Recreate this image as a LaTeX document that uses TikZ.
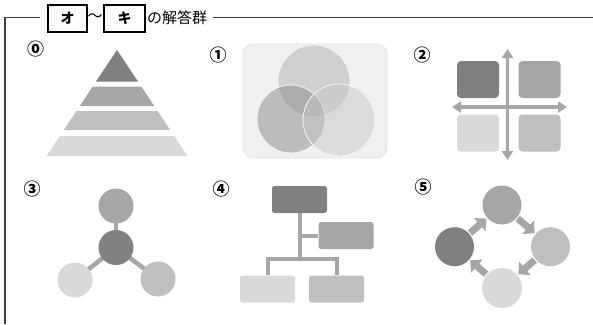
\documentclass[tikz,border=0pt]{standalone}
\usepackage{fontspec}
\newfontfamily\jp{Noto Sans CJK JP}
\usetikzlibrary{arrows.meta,backgrounds}
\definecolor{gA}{HTML}{808080}
\definecolor{gB}{HTML}{A6A6A6}
\definecolor{gC}{HTML}{BFBFBF}
\definecolor{gD}{HTML}{D9D9D9}
\tikzset{
  frameline/.style={draw=black!75, line width=1.2pt},
  ansbox/.style={draw, line width=2pt, minimum height=27pt, inner sep=0pt, font=\jp\bfseries\fontsize{14}{14}\selectfont},
  numlabel/.style={font=\jp\bfseries\fontsize{17}{17}\selectfont, inner sep=0pt},
  blob/.style={circle, inner sep=0pt, draw=none},
  orgbox/.style={rounded corners=2.5pt, minimum width=55pt, minimum height=27pt, inner sep=0pt, draw=none},
  quad/.style={rounded corners=4pt, minimum width=42pt, minimum height=37pt, inner sep=0pt, draw=none},
  link/.style={draw=gB, line width=4.5pt},
  quadarrow/.style={draw=gB, line width=3.5pt, {Triangle[width=11pt,length=9pt]}-{Triangle[width=11pt,length=9pt]}},
  blockarrow/.style={draw=gB, line width=7pt, -{Triangle[width=17pt,length=9pt]}, shorten <=1pt, shorten >=1pt},
  venn/.style={circle, inner sep=0pt, draw=white!92!gray, line width=0.8pt, fill opacity=0.5}
}
\begin{document}
\begin{tikzpicture}[x=1pt,y=-1pt]
\useasboundingbox (0,0) rectangle (593,324);
% ---------- header frame ----------
\node[ansbox, minimum width=39pt] (bo) at (67.5,18) {オ};
\node[ansbox, minimum width=41pt] (bk) at (124.5,18) {キ};
\node[inner sep=0pt, font=\jp\fontsize{15}{15}\selectfont] (tilde) at (95,18) {〜};
\node[inner sep=0pt, anchor=west, font=\jp\fontsize{15}{15}\selectfont] (ttl) at (147,18) {の解答群};
\coordinate (cbl) at (5,324);
\coordinate (ctl) at (5,17.5);
\coordinate (cl1) at (40,17.5);
\coordinate (cr1) at (213,17.5);
\coordinate (cr2) at (593,17.5);
\draw[frameline] (cbl) -- (ctl) -- (cl1);
\draw[frameline] (cr1) -- (cr2);
% ---------- labels ----------
\node[numlabel] (n0) at (35.5,49.5) {⓪};
\node[numlabel] (n1) at (218,55) {①};
\node[numlabel] (n2) at (422,55) {②};
\node[numlabel] (n3) at (32,189) {③};
\node[numlabel] (n4) at (221,189) {④};
\node[numlabel] (n5) at (423,187) {⑤};
% ---------- 0: pyramid ----------
\foreach \a/\b/\c in {50/81.7/gA, 86.7/106/gB, 111/130/gC, 136/156/gD}{
  \fill[\c] ({117-0.665*(\a-50)},\a) -- ({117+0.665*(\a-50)},\a) -- ({117+0.665*(\b-50)},\b) -- ({117-0.665*(\b-50)},\b) -- cycle;
}
% ---------- 1: venn ----------
\node[draw=black!10, fill=black!6, rounded corners=10pt, minimum width=144pt, minimum height=114pt, inner sep=0pt, line width=0.8pt] (vbg) at (315,101) {};
\node[venn, fill=black!30, minimum size=72pt] (vt) at (314,81) {};
\node[venn, fill=black!46, minimum size=68pt] (vl) at (291,119) {};
\node[venn, fill=black!22, minimum size=72pt] (vr) at (339,120) {};
% ---------- 2: quadrant ----------
\node[quad, fill=gA] (q1) at (478,79.5) {};
\node[quad, fill=gB] (q2) at (539.5,79.5) {};
\node[quad, fill=gD] (q3) at (478,133) {};
\node[quad, fill=gC] (q4) at (539.5,133) {};
\coordinate (qt) at (507.5,49);
\coordinate (qb) at (507.5,160);
\coordinate (ql) at (452,107);
\coordinate (qr) at (567,107);
\draw[quadarrow] (qt) -- (qb);
\draw[quadarrow] (ql) -- (qr);
% ---------- 3: hub ----------
\node[blob, fill=gB, minimum size=35pt] (h1) at (116,206) {};
\node[blob, fill=gA, minimum size=35pt] (h0) at (116,247.5) {};
\node[blob, fill=gD, minimum size=35pt] (h2) at (75,280) {};
\node[blob, fill=gC, minimum size=35pt] (h3) at (158,279) {};
\begin{scope}[on background layer]
\draw[link] (h0.center) -- (h1.center);
\draw[link] (h0.center) -- (h2.center);
\draw[link] (h0.center) -- (h3.center);
\end{scope}
% ---------- 4: org chart ----------
\node[orgbox, fill=gA] (o0) at (299.5,199.5) {};
\node[orgbox, fill=gB] (o1) at (346,235.5) {};
\node[orgbox, fill=gD] (o2) at (267.5,289) {};
\node[orgbox, fill=gC] (o3) at (336.5,289) {};
\coordinate (oj) at (299.5,259);
\begin{scope}[on background layer]
\draw[link, line width=4pt] (o0.south) -- (oj);
\draw[link, line width=4pt] (o1.west) -- (o1.west -| oj);
\draw[link, line width=4pt] (o2.north) |- (oj) -| (o3.north);
\end{scope}
% ---------- 5: cycle ----------
\node[blob, fill=gB, minimum size=39pt] (c1) at (502,205) {};
\node[blob, fill=gC, minimum size=39pt] (c2) at (550.5,246.7) {};
\node[blob, fill=gD, minimum size=40pt] (c3) at (502,288) {};
\node[blob, fill=gA, minimum size=39pt] (c4) at (454.5,246.7) {};
\draw[blockarrow] (c4) -- (c1);
\draw[blockarrow] (c1) -- (c2);
\draw[blockarrow] (c2) -- (c3);
\draw[blockarrow] (c3) -- (c4);
\end{tikzpicture}
\end{document}
